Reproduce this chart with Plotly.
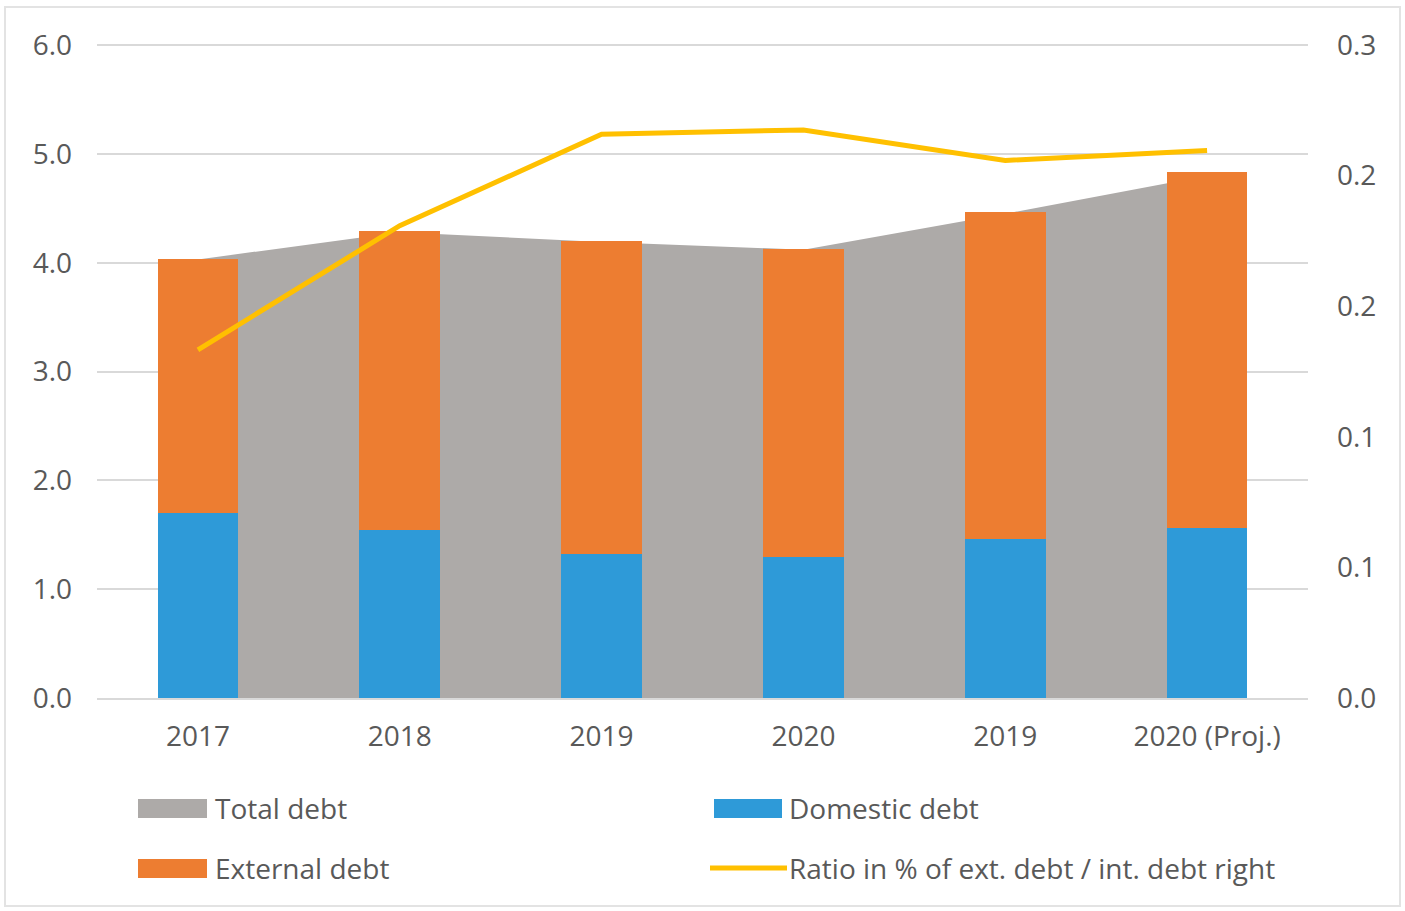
import plotly.graph_objects as go

# data
categories = ["2017", "2018", "2019", "2020", "2019", "2020 (Proj.)"]
domestic_debt = [1.70, 1.54, 1.32, 1.30, 1.46, 1.56]
external_debt = [2.33, 2.75, 2.88, 2.83, 3.01, 3.27]
total_debt = [4.03, 4.28, 4.19, 4.12, 4.45, 4.80]
ratio = [0.160, 0.217, 0.259, 0.261, 0.247, 0.2515]

left_ticks = [0, 1, 2, 3, 4, 5, 6]
right_ticks = [0, 0.06, 0.12, 0.18, 0.24, 0.30]

legend_names = ["Total debt", "Domestic debt", "External debt",
                "Ratio in % of ext. debt / int. debt right"]

GREY = "#ADAAA8"
BLUE = "#2E9AD8"
ORANGE = "#ED7D31"
YELLOW = "#FFC000"
TXT = "#595959"
GRID = "#D9D9D9"
FS = 28

W, H = 1405, 911
# a little headroom above 6.0 so its gridline is drawn; 6.0 still lands at y=45
PAD = 1.02
L, R, B = 97, 1308, 698
T = round(B - (B - 45) * PAD)
pos = list(range(len(categories)))


def px(x):
    return (x - L) / (R - L)


def py(y):
    return (B - y) / (B - T)


fig = go.Figure()

# area sits on the base y axis so that the bars (overlay axis) are drawn above it
fig.add_trace(go.Scatter(
    x=pos, y=total_debt, name=legend_names[0], mode="lines",
    line=dict(width=0, color=GREY), fill="tozeroy", fillcolor=GREY,
    yaxis="y", showlegend=False,
))
fig.add_trace(go.Bar(
    x=pos, y=domestic_debt, name=legend_names[1], marker_color=BLUE,
    marker_line_width=0, width=0.4, yaxis="y2", showlegend=False,
))
fig.add_trace(go.Bar(
    x=pos, y=external_debt, name=legend_names[2], marker_color=ORANGE,
    marker_line_width=0, width=0.4, yaxis="y2", showlegend=False,
))
fig.add_trace(go.Scatter(
    x=pos, y=ratio, name=legend_names[3], mode="lines",
    line=dict(width=5, color=YELLOW), yaxis="y3", showlegend=False,
))

fig.update_layout(
    width=W, height=H,
    margin=dict(l=L, r=W - R, t=T, b=H - B),
    paper_bgcolor="white", plot_bgcolor="white",
    barmode="stack",
    font=dict(family="Open Sans", size=FS, color=TXT),
    xaxis=dict(
        range=[-0.5, 5.5], tickvals=pos, ticktext=categories,
        showgrid=False, zeroline=False, showline=True,
        linecolor=GRID, linewidth=2, ticks="", ticklabelstandoff=12,
    ),
    yaxis=dict(
        range=[0, 6 * PAD], tickvals=left_ticks, tickformat=".1f",
        showgrid=True, gridcolor=GRID, gridwidth=2, zeroline=False,
        ticks="", ticklabelstandoff=24,
    ),
    yaxis2=dict(
        range=[0, 6 * PAD], overlaying="y", visible=False,
    ),
    yaxis3=dict(
        range=[0, 0.3 * PAD], tickvals=right_ticks, tickformat=".1f",
        overlaying="y", side="right", showgrid=False, zeroline=False,
        ticks="", ticklabelstandoff=28,
    ),
)

# outer frame
fig.add_shape(type="rect", xref="paper", yref="paper",
              x0=px(5), x1=px(1400), y0=py(906), y1=py(7),
              line=dict(color="#E3E3E3", width=2), layer="below")

# legend drawn by hand (Excel-style wide swatches, two columns)
swatches = [
    (GREY, 138, 207, 799, 818),
    (BLUE, 714, 782, 799, 818),
    (ORANGE, 138, 207, 859, 878),
]
for color, x0, x1, y0, y1 in swatches:
    fig.add_shape(type="rect", xref="paper", yref="paper",
                  x0=px(x0), x1=px(x1), y0=py(y1), y1=py(y0),
                  fillcolor=color, line=dict(width=0))
fig.add_shape(type="line", xref="paper", yref="paper",
              x0=px(710), x1=px(787), y0=py(868), y1=py(868),
              line=dict(color=YELLOW, width=5))

label_pos = [(213, 808), (787, 808), (213, 868), (787, 868)]
for name, (lx, ly) in zip(legend_names, label_pos):
    fig.add_annotation(text=name, xref="paper", yref="paper",
                       x=px(lx), y=py(ly), xanchor="left", yanchor="middle",
                       showarrow=False, font=dict(size=FS, color=TXT))

# drop the default 8px body margin so the figure sits at the page origin
fig.write_html("out.html", config={"displayModeBar": False},
               post_script="document.body.style.margin='0';")
